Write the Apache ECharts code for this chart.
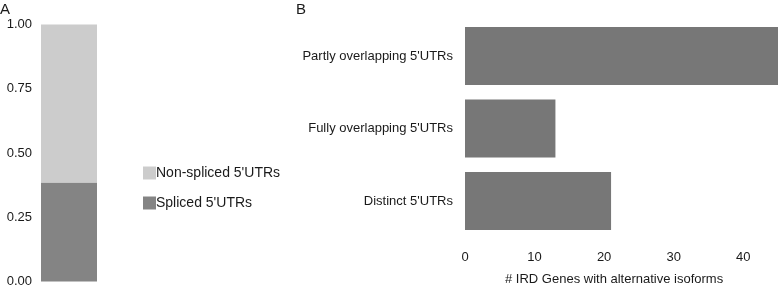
<!DOCTYPE html>
<html>
<head>
<meta charset="utf-8">
<script src="https://cdn.jsdelivr.net/npm/echarts@6/dist/echarts.min.js"></script>
<style>
  html, body { margin: 0; padding: 0; background: #fff; }
  #chart { width: 778px; height: 288px; }
</style>
</head>
<body>
<div id="chart"></div>
<script>
// Panel A: share of 5'UTR types
const fractionLabels = ["Non-spliced 5'UTRs", "Spliced 5'UTRs"];
const splicedFraction = [0.385];
const nonSplicedFraction = [0.615];
const fractionTicks = [0, 0.25, 0.5, 0.75, 1];

// Panel B: IRD genes by 5'UTR overlap class
const overlapCategories = ["Partly overlapping 5'UTRs", "Fully overlapping 5'UTRs", "Distinct 5'UTRs"];
const geneCounts = [45, 13, 21];

const FONT = "Liberation Sans, Arial, sans-serif";
const TEXT = "#1a1a1a";

const chart = echarts.init(document.getElementById("chart"));

chart.setOption({
  animation: false,
  textStyle: { fontFamily: FONT, color: TEXT },
  title: [
    { text: "A", left: -5, top: -3, textStyle: { fontSize: 15, fontWeight: "normal", color: TEXT, fontFamily: FONT } },
    { text: "B", left: 291, top: -3, textStyle: { fontSize: 15, fontWeight: "normal", color: TEXT, fontFamily: FONT } },
    { text: "# IRD Genes with alternative isoforms", left: 500, top: 268,
      textStyle: { fontSize: 13, fontWeight: "normal", color: TEXT, fontFamily: FONT } }
  ],
  legend: {
    orient: "vertical",
    left: 138,
    top: 161,
    itemWidth: 13,
    itemHeight: 13,
    itemGap: 16,
    icon: "rect",
    data: fractionLabels,
    textStyle: { fontSize: 14, color: TEXT, fontFamily: FONT, padding: [0, 0, 0, -5] }
  },
  grid: [
    { left: 41, top: 24.5, width: 56, bottom: 0.5 },
    { left: 465, top: 19.75, right: 0, bottom: 50.75 }
  ],
  xAxis: [
    { gridIndex: 0, type: "category", data: [""], show: false },
    {
      gridIndex: 1, type: "value", min: 0, max: 45, interval: 10,
      axisLine: { show: false }, axisTick: { show: false }, splitLine: { show: false },
      axisLabel: { fontSize: 13, color: TEXT, margin: 14, showMaxLabel: false }
    }
  ],
  yAxis: [
    {
      gridIndex: 0, type: "value", min: 0, max: 1, interval: 0.25,
      axisLine: { show: false }, axisTick: { show: false }, splitLine: { show: false },
      axisLabel: {
        fontSize: 13, color: TEXT, margin: 9,
        formatter: (v) => fractionTicks.includes(v) ? v.toFixed(2) : ""
      }
    },
    {
      gridIndex: 1, type: "category", data: overlapCategories, inverse: true,
      axisLine: { show: false }, axisTick: { show: false },
      axisLabel: { fontSize: 13, color: TEXT, margin: 12 }
    }
  ],
  series: [
    {
      name: "Spliced 5'UTRs", type: "bar", stack: "a", xAxisIndex: 0, yAxisIndex: 0,
      data: splicedFraction, barWidth: "100%", itemStyle: { color: "#848484" }
    },
    {
      name: "Non-spliced 5'UTRs", type: "bar", stack: "a", xAxisIndex: 0, yAxisIndex: 0,
      data: nonSplicedFraction, barWidth: "100%", itemStyle: { color: "#cccccc" }
    },
    {
      name: "IRD genes", type: "bar", xAxisIndex: 1, yAxisIndex: 1,
      data: geneCounts, barWidth: 58, itemStyle: { color: "#777777" }
    }
  ]
});
</script>
</body>
</html>
